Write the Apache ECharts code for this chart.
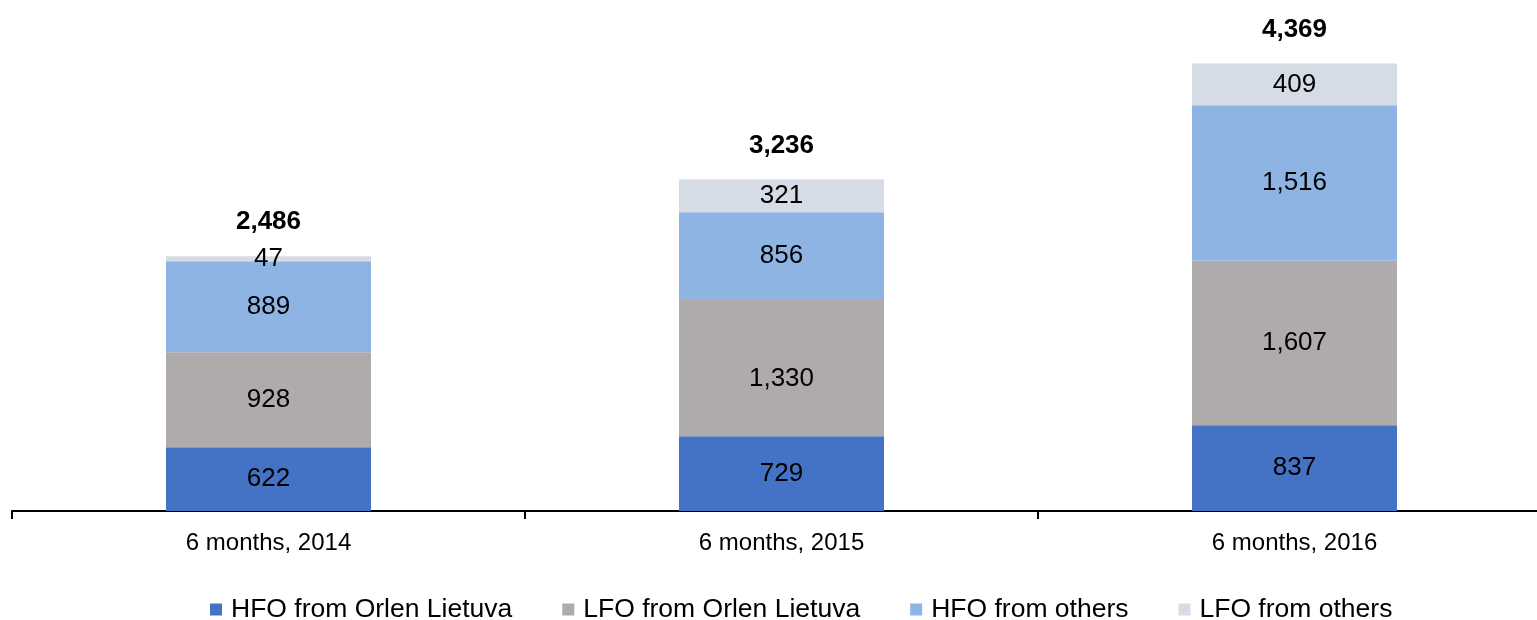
<!DOCTYPE html>
<html>
<head>
<meta charset="utf-8">
<script src="https://cdn.jsdelivr.net/npm/echarts@6/dist/echarts.min.js"></script>
<style>
  html, body { margin: 0; padding: 0; background: #fff; }
  #chart { width: 1537px; height: 620px; }
</style>
</head>
<body>
<div id="chart"></div>
<script>
const categories = ['6 months, 2014', '6 months, 2015', '6 months, 2016'];
const hfoOrlen = [622, 729, 837];
const lfoOrlen = [928, 1330, 1607];
const hfoOthers = [889, 856, 1516];
const lfoOthers = [47, 321, 409];
const totals = [2486, 3236, 4369];

const fmt = v => v.toLocaleString('en-US');
const FONT = 'Liberation Sans, Arial, sans-serif';

const chart = echarts.init(document.getElementById('chart'), null, { renderer: 'canvas' });

// labelShift: optional per-bar vertical nudge of the value label (as in the source slide)
function stackSeries(name, data, color, labelShift) {
  return {
    name: name,
    type: 'bar',
    stack: 'total',
    barWidth: 205,
    data: data.map((v, i) => {
      const item = { value: v };
      if (labelShift && labelShift[i]) item.label = { offset: [0, labelShift[i]] };
      return item;
    }),
    itemStyle: { color: color },
    label: {
      show: true,
      position: 'inside',
      color: '#000',
      fontFamily: FONT,
      fontSize: 26,
      formatter: p => fmt(p.value)
    }
  };
}

chart.setOption({
  animation: false,
  // the last category boundary lies just past the right edge of the picture
  grid: { left: 12, width: 1539, top: 50, bottom: 109, outerBoundsMode: 'none', containLabel: false },
  legend: {
    data: ['HFO from Orlen Lietuva', 'LFO from Orlen Lietuva', 'HFO from others', 'LFO from others'],
    left: 205,
    bottom: -8,
    itemWidth: 12,
    itemHeight: 12,
    itemGap: 50,
    icon: 'rect',
    textStyle: { fontFamily: FONT, fontSize: 26.5, color: '#000', padding: [0, 0, 0, 4] }
  },
  xAxis: {
    type: 'category',
    data: categories,
    axisLine: { lineStyle: { color: '#000', width: 2 } },
    axisTick: { show: true, length: 8, lineStyle: { color: '#000', width: 2 } },
    axisLabel: { fontFamily: FONT, fontSize: 24, color: '#000', margin: 20 }
  },
  yAxis: {
    type: 'value',
    min: 0,
    max: 4500,
    show: false,
    splitLine: { show: false }
  },
  series: [
    stackSeries('HFO from Orlen Lietuva', hfoOrlen, '#4472C4'),
    stackSeries('LFO from Orlen Lietuva', lfoOrlen, '#AFABAB', [0, 11, 0]),
    stackSeries('HFO from others', hfoOthers, '#8EB4E3'),
    stackSeries('LFO from others', lfoOthers, '#D6DCE5'),
    {
      name: 'Total',
      type: 'scatter',
      data: totals,
      symbolSize: 0,
      silent: true,
      itemStyle: { opacity: 1 },
      label: {
        show: true,
        position: 'top',
        distance: 21,
        color: '#000000',
        opacity: 1,
        fontFamily: FONT,
        fontSize: 26,
        fontWeight: 'bold',
        formatter: p => fmt(p.value)
      }
    }
  ]
});
</script>
</body>
</html>
